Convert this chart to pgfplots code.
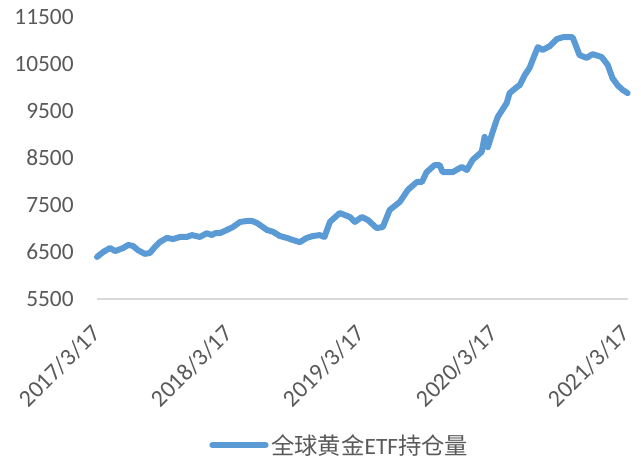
\documentclass[border=0pt]{standalone}
\usepackage{fontspec}
\setmainfont{Carlito}
\newfontfamily\cjk{Noto Sans CJK SC}
\usepackage{pgfplots}
\pgfplotsset{compat=1.18}
\definecolor{etfblue}{HTML}{5B9BD5}
\definecolor{ticktxt}{HTML}{595959}
\definecolor{gridgray}{HTML}{D9D9D9}

% days since 2017/3/17, holdings (tonnes)
\pgfplotstableread{
d v
0 6394
17 6500
36 6585
50 6520
72 6585
86 6650
99 6630
113 6540
132 6460
146 6480
160 6610
174 6715
193 6800
210 6775
229 6820
248 6820
262 6860
284 6820
303 6900
317 6860
326 6900
339 6900
359 6970
375 7030
395 7140
414 7160
428 7160
441 7120
458 7030
469 6970
486 6930
505 6840
524 6800
541 6755
560 6710
579 6800
596 6840
615 6860
628 6820
643 7140
670 7330
698 7245
712 7140
731 7245
748 7180
772 7010
789 7030
808 7395
836 7565
858 7820
883 7990
897 7990
910 8200
932 8350
946 8350
954 8200
982 8200
1007 8310
1021 8245
1037 8460
1062 8630
1070 8950
1079 8730
1092 9050
1106 9370
1131 9670
1139 9880
1159 10010
1167 10050
1181 10265
1194 10415
1208 10690
1217 10860
1230 10800
1250 10880
1269 11030
1286 11070
1313 11070
1332 10690
1352 10630
1368 10710
1393 10650
1410 10480
1423 10200
1437 10050
1451 9950
1465 9880
}\etf

\begin{document}
\begin{tikzpicture}
\useasboundingbox (-72.75pt,-122.25pt) rectangle (408pt,224.25pt);
\begin{axis}[
  scale only axis,
  width=398pt, height=211.5pt,
  xmin=0, xmax=1465,
  ymin=5500, ymax=11500,
  scaled y ticks=false,
  axis x line*=bottom,
  axis y line*=left,
  x axis line style={gridgray, line width=0.9pt, -},
  y axis line style={draw=none},
  xtick={0,365,730,1096,1461},
  xticklabels={2017/3/17,2018/3/17,2019/3/17,2020/3/17,2021/3/17},
  ytick={5500,6500,7500,8500,9500,10500,11500},
  yticklabels={5500,6500,7500,8500,9500,10500,11500},
  major tick length=0pt,
  tick label style={font=\fontsize{17.5}{20}\selectfont, color=ticktxt},
  xticklabel style={font=\fontsize{18}{20}\selectfont, xshift=2pt, yshift=-20.5pt, rotate=45, anchor=east},
  yticklabel style={anchor=east, xshift=-14pt},
  legend style={draw=none, fill=none, at={(rel axis cs:0.458,-0.518)}, anchor=center,
    font=\fontsize{17.5}{20}\selectfont, text=ticktxt},
  legend image code/.code={\draw[#1, line width=4.5pt] (0pt,0pt) -- (40pt,0pt);},
  clip=false,
]
\addplot[etfblue, line width=4.5pt, line join=round, line cap=round] table[x=d, y=v] {\etf};
\addlegendentry{\cjk 全球黄金\rmfamily ETF\cjk 持仓量}
\end{axis}
\end{tikzpicture}
\end{document}
